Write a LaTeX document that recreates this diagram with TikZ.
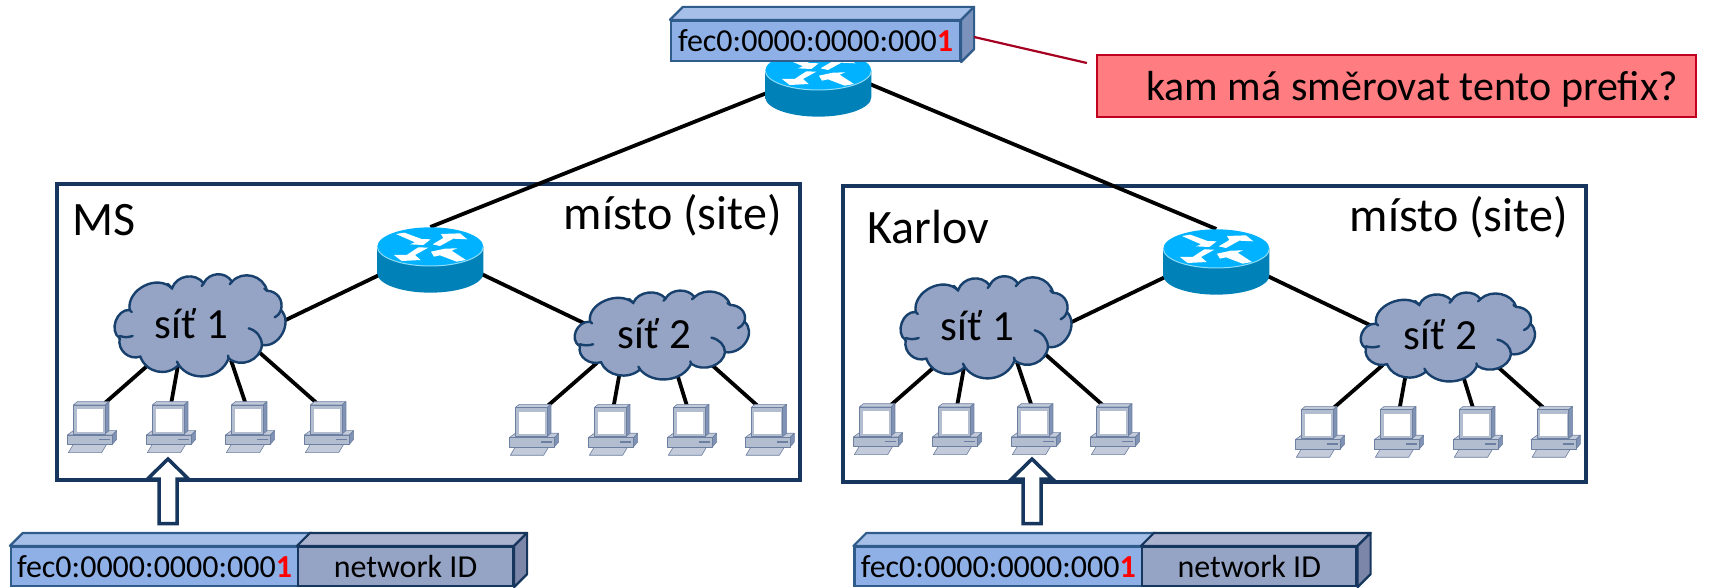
\documentclass[tikz,border=0pt]{standalone}
\usepackage{fontspec}
\setmainfont{Carlito}
\usetikzlibrary{calc}
\definecolor{framec}{HTML}{17365D}
\definecolor{boxb}{HTML}{2F5C8A}
\definecolor{boxf}{HTML}{8EB0E6}
\definecolor{boxt}{HTML}{A6BFE8}
\definecolor{boxs}{HTML}{7A92BC}
\definecolor{idf}{HTML}{95A3C5}
\definecolor{idt}{HTML}{ABB2CE}
\definecolor{ids}{HTML}{7C86A8}
\definecolor{cloudf}{HTML}{95A3C5}
\definecolor{cloudb}{HTML}{17406D}
\definecolor{redf}{HTML}{FF7C80}
\definecolor{redb}{HTML}{C0001E}
\definecolor{redl}{HTML}{A50021}
\definecolor{pcl}{HTML}{C3CBDA}
\definecolor{pcm}{HTML}{B3BDD0}
\definecolor{pcd}{HTML}{8093B5}
\definecolor{pce}{HTML}{6C7FA0}
\definecolor{rtop}{HTML}{00B2FF}
\definecolor{rside}{HTML}{0079AD}
\definecolor{rrim}{HTML}{8FDCF8}
\tikzset{
  x=0.5pt,y=-0.5pt,
  framebox/.style={draw=framec,line width=1.75pt,fill=white,minimum width=371.5pt,minimum height=148pt,inner sep=0pt},
  ghost/.style={inner sep=0pt,outer sep=0pt,minimum width=#1},
  routernode/.style={ghost=53pt,minimum height=33pt},
  cloudnode/.style={ghost=86pt,minimum height=50pt},
  pcnode/.style={ghost=24.7pt,minimum height=25.5pt,anchor=north west},
  link/.style={draw=black,line width=1.9pt},
  redlink/.style={draw=redl,line width=1.1pt},
  big/.style={font=\fontsize{24}{27}\selectfont,inner sep=0pt},
  cloudtxt/.style={font=\fontsize{21.5}{24}\selectfont,inner sep=0pt,anchor=base},
  prefixbox/.style={draw=boxb,fill=boxf,line width=1.1pt,inner sep=0pt,font=\fontsize{16}{18}\selectfont},
  idbox/.style={draw=framec,fill=idf,line width=1.1pt,inner sep=0pt,font=\fontsize{16}{18}\selectfont},
  blockarrow/.style={draw=framec,fill=white,line width=1.75pt,line join=miter},
  pcpart/.style={draw=pce,line width=0.3pt,line join=round},
  cloudline/.style={draw=cloudb,line width=1.2pt,line cap=round},
  lobe/.style={bend left=#1,looseness=1.12}
}
\newcommand{\prefixtxt}{fec0:0000:0000:000{\color{red}\textbf{1}}}
% invisible nodes of one site, in a shifted scope
\newcommand{\sitenodes}[5]{%
  \begin{scope}[shift={(#2,#3)}]
    \node[framebox] (frame#1) at (428.5,332) {};
    \node[big,anchor=base west] (name#1) at (#4) {#5};
    \node[big,anchor=base east] (kind#1) at (782,230) {místo (site)};
    \node[routernode] (r#1) at (430.3,260) {};
    \node[cloudnode] (ca#1) at (199,325.3) {};
    \node[cloudnode] (cb#1) at (660.8,335) {};
    \node[pcnode] (pa1#1) at (67.3,401.7) {};
    \node[pcnode] (pa2#1) at (146.3,401.7) {};
    \node[pcnode] (pa3#1) at (225.3,401.7) {};
    \node[pcnode] (pa4#1) at (304.3,401.7) {};
    \node[pcnode] (pb1#1) at (509.3,404.3) {};
    \node[pcnode] (pb2#1) at (588.3,404.3) {};
    \node[pcnode] (pb3#1) at (667.3,404.3) {};
    \node[pcnode] (pb4#1) at (745,404.3) {};
  \end{scope}}
\newcommand{\sitelinks}[1]{%
  \draw[link] ($(r#1.west)+(4,14)$) -- ($(ca#1)+(84,-4)$);
  \draw[link] ($(r#1.east)+(-4,13)$) -- ($(cb#1)+(-75,-11)$);
  \draw[link] ($(pa1#1.north west)+(38,1)$) -- ($(ca#1)+(-50,39)$);
  \draw[link] ($(pa2#1.north west)+(25,1)$) -- ($(ca#1)+(-21,40)$);
  \draw[link] ($(pa3#1.north west)+(20,1)$) -- ($(ca#1)+(32,35)$);
  \draw[link] ($(pa4#1.north west)+(12,1)$) -- ($(ca#1)+(58,25)$);
  \draw[link] ($(pb1#1.north west)+(39,1)$) -- ($(cb#1)+(-64,28)$);
  \draw[link] ($(pb2#1.north west)+(25.5,1)$) -- ($(cb#1)+(-41,37)$);
  \draw[link] ($(pb3#1.north west)+(19.5,1)$) -- ($(cb#1)+(16,38)$);
  \draw[link] ($(pb4#1.north west)+(12,1)$) -- ($(cb#1)+(50,29)$);}
\newcommand{\routerart}[1]{%
  \begin{scope}[shift={(#1.center)},scale=0.3333,shift={(-211,-150)}]
    \shade[left color=rside!85!rtop,middle color=rside,right color=rside!85!rtop]
      (52,110) -- (52,190) arc[start angle=180,end angle=0,x radius=159,y radius=58] -- (370,110) -- cycle;
    \fill[rtop] (211,110) ellipse[x radius=159,y radius=58];
    \draw[rrim,line width=0.5pt] (52,110) arc[start angle=180,end angle=0,x radius=159,y radius=58];
    \fill[white] (108,72) -- (133,68) -- (185,87) -- (212,88) -- (190,105) -- (150,103) -- (165,97) -- cycle;
    \fill[white] (218,103) -- (250,84) -- (243,72) -- (300,70) -- (322,88) -- (280,86) -- (240,108) -- cycle;
    \fill[white] (205,113) -- (165,135) -- (182,150) -- (125,153) -- (102,135) -- (140,135) -- (175,112) -- cycle;
    \fill[white] (318,150) -- (290,155) -- (240,136) -- (222,140) -- (213,125) -- (255,116) -- (292,115) -- (275,122) -- cycle;
  \end{scope}}
\newcommand{\cloudart}[3]{%
  \begin{scope}[shift={(#1.center)},xscale=#2*0.3333,yscale=#3*0.3333,shift={(-476,-196)}]
    \path[fill=cloudf,cloudline]
      (238,235) to[lobe=75] (268,150)
      to[lobe=72] (395,85)
      to[lobe=62] (490,70)
      to[lobe=62] (575,65)
      to[lobe=62] (680,92)
      to[lobe=50] (722,150)
      to[lobe=72] (665,255)
      to[lobe=62] (565,295)
      to[lobe=62] (415,315)
      to[lobe=58] (300,290)
      to[lobe=60] (238,235);
    \draw[cloudline] (625,205) to[bend left=35] (665,255);
    \draw[cloudline] (238,228) to[bend right=18] (277,228);
    \draw[cloudline] (722,150) to[bend left=20] (703,172);
    \draw[cloudline] (268,150) -- (274,156);
    \draw[cloudline] (395,85) to[bend left=15] (383,72);
    \draw[cloudline] (490,70) -- (484,78);
    \draw[cloudline] (575,65) -- (568,73);
    \draw[cloudline] (680,92) -- (672,86);
    \draw[cloudline] (565,295) -- (563,287);
    \draw[cloudline] (415,315) -- (410,305);
  \end{scope}}
\newcommand{\pcart}[1]{%
  \begin{scope}[shift={(#1.north west)},scale=0.3333,shift={(-82,-425)}]
    \fill[pcpart,fill=pcl] (100,553) -- (200,553) -- (185,578) -- (85,578) -- cycle;
    \fill[pcpart,fill=pcl] (82,525) -- (100,512) -- (230,512) -- (217,525) -- cycle;
    \fill[pcpart,fill=pcd] (217,525) -- (230,512) -- (230,538) -- (217,553) -- cycle;
    \fill[pcpart,fill=pcm] (82,525) rectangle (217,553);
    \draw[pce,line width=0.6pt] (177,538) -- (210,538);
    \fill[pcpart,fill=pcl] (100,435) -- (112,425) -- (207,425) -- (195,435) -- cycle;
    \fill[pcpart,fill=pcd] (195,435) -- (207,425) -- (207,512) -- (195,522) -- cycle;
    \fill[pcpart,fill=pcm] (100,435) rectangle (195,522);
    \fill[white] (110,448) rectangle (190,515);
  \end{scope}}
\newcommand{\siteart}[1]{%
  \routerart{r#1}
  \cloudart{ca#1}{1}{1}
  \cloudart{cb#1}{1.02}{0.87}
  \foreach \p in {pa1,pa2,pa3,pa4,pb1,pb2,pb3,pb4}{\pcart{\p#1}}
  \node[cloudtxt] (cat#1) at ($(ca#1)+(-7.5,13.5)$) {síť 1};
  \node[cloudtxt] (cbt#1) at ($(cb#1)+(-6.5,13)$) {síť 2};}
% 3-D top and side of a prefix block
\newcommand{\blocktop}[4]{%
  \draw[line width=1.1pt,draw=#3,fill=#4,line join=round] (#1.north west) -- ++(13,-13) -- ($(#2.north east)+(13,-13)$) -- (#2.north east) -- cycle;}
\newcommand{\blockside}[3]{%
  \draw[line width=1.1pt,draw=#2,fill=#3,line join=round] (#1.north east) -- ++(13,-13) -- ($(#1.south east)+(13,-13)$) -- (#1.south east) -- cycle;}
\newcommand{\blockarr}[1]{%
  \draw[blockarrow] ($(#1)+(0,0)$) -- ++(20.5,20) -- ++(-11.5,0) -- ++(0,44.5) -- ++(-18,0) -- ++(0,-44.5) -- ++(-11.5,0) -- cycle;}
\begin{document}
\begin{tikzpicture}
\useasboundingbox (0,0) rectangle (1729,588);
\sitenodes{L}{0}{0}{72,235}{MS}
\sitenodes{R}{786}{2}{81,242}{Karlov}
\node[routernode] (r0) at (818.3,84) {};
\draw[link] ($(r0.west)+(4,8)$) -- (rL.north);
\draw[link] ($(r0.east)+(-4,-1)$) -- (rR.north);
\sitelinks{L}
\sitelinks{R}
\siteart{L}
\siteart{R}
\routerart{r0}
% top prefix
\node[prefixbox,minimum width=144.5pt,minimum height=20pt] (topb) at (815.5,41) {\prefixtxt};
\blocktop{topb}{topb}{boxb}{boxt}
\blockside{topb}{boxb}{boxs}
% question
\node[draw=redb,fill=redf,line width=1.1pt,minimum width=299.5pt,minimum height=31pt,inner sep=0pt] (redq) at (1396.5,86) {};
\node[font=\fontsize{21}{24}\selectfont,inner sep=0pt,anchor=base] (redt) at (1412,101) {kam má směrovat tento prefix?};
\draw[redlink] ($(topb.east)+(13,-4)$) -- ($(redq.west)+(-9,-23)$);
% bottom prefixes
\node[prefixbox,minimum width=143.5pt,minimum height=19.5pt] (b1) at (154.5,566.5) {\prefixtxt};
\node[idbox,minimum width=107.5pt,minimum height=19.5pt] (n1) at (405.5,566.5) {network ID};
\blocktop{b1}{b1}{boxb}{boxt}
\blocktop{n1}{n1}{framec}{idt}
\blockside{n1}{framec}{ids}
\node[prefixbox,minimum width=143.75pt,minimum height=19.5pt] (b2) at (998.25,566.5) {\prefixtxt};
\node[idbox,minimum width=107.25pt,minimum height=19.5pt] (n2) at (1249.25,566.5) {network ID};
\blocktop{b2}{b2}{boxb}{boxt}
\blocktop{n2}{n2}{framec}{idt}
\blockside{n2}{framec}{ids}
% block arrows
\coordinate (tip1) at (168,459);
\coordinate (tip2) at (1032,459);
\blockarr{tip1}
\blockarr{tip2}
\end{tikzpicture}
\end{document}
